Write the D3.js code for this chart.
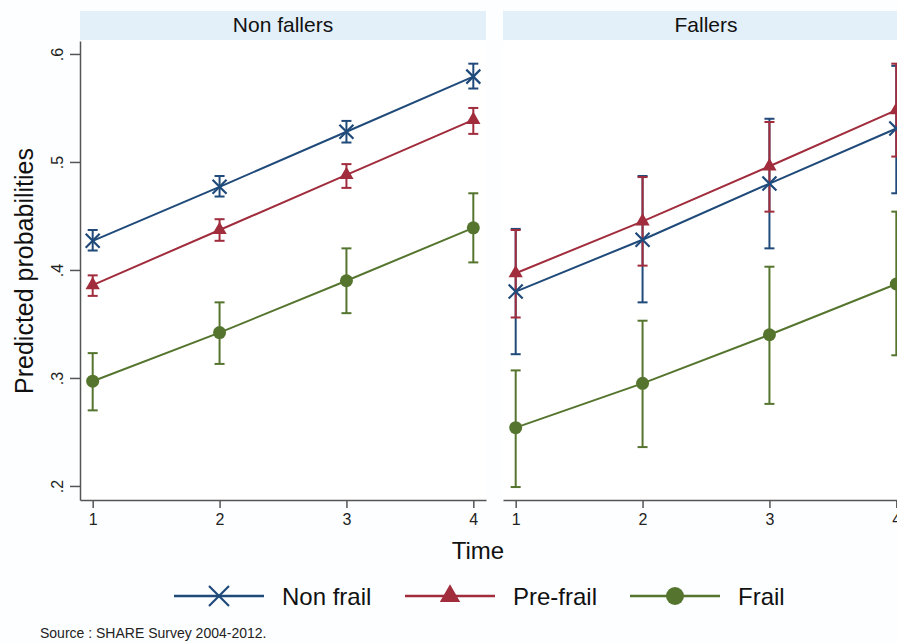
<!DOCTYPE html>
<html>
<head>
  <meta charset="UTF-8">
  <style>
    body { margin: 0; background: #ffffff; }
    svg { display: block; font-family: "Liberation Sans", Arial, sans-serif; }
  </style>
</head>
<body>
<svg></svg>
<script src="https://d3js.org/d3.v7.min.js"></script>

<script>

let width = 897, height = 643;

// Data
const times = [1, 2, 3, 4];
const panels = ["Non fallers", "Fallers"];
const groups = ["Non frail", "Pre-frail", "Frail"];
const yTicks = [0.2, 0.3, 0.4, 0.5, 0.6];

// Non fallers
const nfNonFrail    = [0.427, 0.477, 0.528, 0.579];
const nfNonFrailLo  = [0.418, 0.468, 0.518, 0.568];
const nfNonFrailHi  = [0.437, 0.487, 0.538, 0.591];
const nfPreFrail    = [0.386, 0.437, 0.488, 0.539];
const nfPreFrailLo  = [0.376, 0.427, 0.476, 0.526];
const nfPreFrailHi  = [0.395, 0.447, 0.498, 0.550];
const nfFrail       = [0.297, 0.342, 0.390, 0.439];
const nfFrailLo     = [0.270, 0.313, 0.360, 0.407];
const nfFrailHi     = [0.323, 0.370, 0.420, 0.471];

// Fallers
const fNonFrail     = [0.380, 0.428, 0.480, 0.531];
const fNonFrailLo   = [0.322, 0.370, 0.420, 0.471];
const fNonFrailHi   = [0.438, 0.487, 0.540, 0.589];
const fPreFrail     = [0.397, 0.445, 0.496, 0.548];
const fPreFrailLo   = [0.356, 0.404, 0.454, 0.505];
const fPreFrailHi   = [0.437, 0.486, 0.537, 0.591];
const fFrail        = [0.254, 0.295, 0.340, 0.387];
const fFrailLo      = [0.199, 0.236, 0.276, 0.321];
const fFrailHi      = [0.307, 0.353, 0.403, 0.454];

const colors = ["#1f4a7a", "#a02c3c", "#55752f"];
const shapes = ["x", "triangle", "circle"];

// build series per panel
function makeSeries(est, lo, hi, g) {
    return { group: groups[g], color: colors[g], shape: shapes[g],
        points: times.map((t, i) => ({ t: t, v: est[i], lo: lo[i], hi: hi[i] })) };
}
const panelData = [
    [makeSeries(nfNonFrail, nfNonFrailLo, nfNonFrailHi, 0),
     makeSeries(nfPreFrail, nfPreFrailLo, nfPreFrailHi, 1),
     makeSeries(nfFrail, nfFrailLo, nfFrailHi, 2)],
    [makeSeries(fNonFrail, fNonFrailLo, fNonFrailHi, 0),
     makeSeries(fPreFrail, fPreFrailLo, fPreFrailHi, 1),
     makeSeries(fFrail, fFrailLo, fFrailHi, 2)]
];

let svg = d3.select("svg")
    .attr("width", width)
    .attr("height", height)
    .attr("viewBox", "0 0 " + width + " " + height);

svg.append("rect").attr("width", width).attr("height", height).attr("fill", "#fdfeff");

// shared y scale
var y = d3.scaleLinear().domain([0.187, 0.612]).range([500, 41]);

var panelLeft = [80, 503], panelWidth = 406;
var axisColor = "#555555";

function marker(g, shape, color, size) {
    if (shape == "x") {
        let s = size / 2;
        g.append("path")
            .attr("d", `M${-s},${-s}L${s},${s}M${-s},${s}L${s},${-s}`)
            .attr("stroke", color).attr("stroke-width", 2.2).attr("fill", "none");
    } else if (shape == "triangle") {
        g.append("path")
            .attr("d", d3.symbol().type(d3.symbolTriangle).size(size * size * 0.45)())
            .attr("fill", color);
    } else {
        g.append("circle").attr("r", size / 2).attr("fill", color);
    }
}

panels.forEach((name, p) => {
    var x = d3.scaleLinear().domain([0.9, 4.1]).range([panelLeft[p], panelLeft[p] + panelWidth]);
    var g = svg.append("g");

    // strip
    g.append("rect")
        .attr("x", panelLeft[p]).attr("y", 11)
        .attr("width", panelWidth).attr("height", 29)
        .attr("fill", "#e3f0f9");
    g.append("text")
        .attr("x", panelLeft[p] + panelWidth / 2).attr("y", 32)
        .attr("text-anchor", "middle")
        .style("font-size", "21px").attr("fill", "#111")
        .text(name);

    // plot region
    g.append("rect")
        .attr("x", panelLeft[p]).attr("y", 41)
        .attr("width", panelWidth).attr("height", 459)
        .attr("fill", "#ffffff");

    // x axis
    var xAxis = g.append("g")
        .attr("transform", "translate(0,500)")
        .call(d3.axisBottom(x).tickValues(times).tickFormat(d3.format("d"))
            .tickSize(8).tickSizeOuter(0).tickPadding(6));
    xAxis.select(".domain").attr("stroke", axisColor).attr("stroke-width", 1.5);
    xAxis.selectAll(".tick line").attr("stroke", axisColor).attr("stroke-width", 1.5);
    xAxis.selectAll(".tick text").style("font-size", "16px").attr("fill", "#222")
        .style("font-family", "Liberation Sans, Arial, sans-serif");

    // y axis only on first panel
    if (p == 0) {
        var yAxis = g.append("g")
            .attr("transform", "translate(" + panelLeft[p] + ",0)")
            .call(d3.axisLeft(y).tickValues(yTicks).tickSize(10).tickSizeOuter(0)
                .tickFormat(d => d3.format(".1f")(d).replace(/^0/, "")));
        yAxis.select(".domain").attr("stroke", axisColor).attr("stroke-width", 1.5);
        yAxis.selectAll(".tick line").attr("stroke", axisColor).attr("stroke-width", 1.5);
        yAxis.selectAll(".tick text")
            .attr("x", null).attr("dy", null)
            .attr("transform", "translate(-17,0) rotate(-90)")
            .attr("text-anchor", "middle")
            .style("font-size", "16px").attr("fill", "#222")
            .style("font-family", "Liberation Sans, Arial, sans-serif");
    }

    var series = panelData[p];

    // confidence interval caps
    series.forEach(s => {
        var ci = g.append("g").attr("stroke", s.color).attr("stroke-width", 2).attr("fill", "none");
        s.points.forEach(d => {
            ci.append("line").attr("x1", x(d.t)).attr("x2", x(d.t)).attr("y1", y(d.lo)).attr("y2", y(d.hi));
            ci.append("line").attr("x1", x(d.t) - 5).attr("x2", x(d.t) + 5).attr("y1", y(d.lo)).attr("y2", y(d.lo));
            ci.append("line").attr("x1", x(d.t) - 5).attr("x2", x(d.t) + 5).attr("y1", y(d.hi)).attr("y2", y(d.hi));
        });
    });

    // lines and markers
    var line = d3.line().x(d => x(d.t)).y(d => y(d.v));
    series.forEach(s => {
        g.append("path")
            .datum(s.points)
            .attr("d", line)
            .attr("fill", "none")
            .attr("stroke", s.color)
            .attr("stroke-width", 2);
        s.points.forEach(d => {
            var m = g.append("g").attr("transform", "translate(" + x(d.t) + "," + y(d.v) + ")");
            marker(m, s.shape, s.color, s.shape == "circle" ? 13 : 14);
        });
    });
});

// y axis title
svg.append("text")
    .attr("transform", "translate(33,271) rotate(-90)")
    .attr("text-anchor", "middle")
    .style("font-size", "25px").attr("fill", "#111")
    .text("Predicted probabilities");

// x axis title
svg.append("text")
    .attr("x", 478).attr("y", 559)
    .attr("text-anchor", "middle")
    .style("font-size", "24px").attr("fill", "#111")
    .text("Time");

// legend
var legendX = [174, 405, 630];
groups.forEach((name, i) => {
    var lg = svg.append("g").attr("transform", "translate(" + legendX[i] + ",596)");
    lg.append("line").attr("x1", 0).attr("x2", 90).attr("y1", 0).attr("y2", 0)
        .attr("stroke", colors[i]).attr("stroke-width", 2.5);
    var m = lg.append("g").attr("transform", "translate(45,0)");
    marker(m, shapes[i], colors[i], shapes[i] == "circle" ? 18 : 20);
    lg.append("text")
        .attr("x", 108).attr("y", 9)
        .style("font-size", "24px").attr("fill", "#111")
        .text(name);
});

// source note
svg.append("text")
    .attr("x", 40).attr("y", 638)
    .style("font-size", "14px").attr("fill", "#222")
    .text("Source : SHARE Survey 2004-2012.");

</script>

</body>
</html>
